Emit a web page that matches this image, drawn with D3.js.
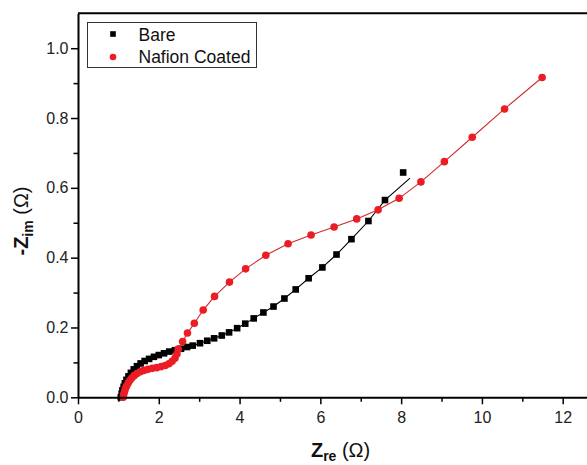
<!DOCTYPE html>
<html>
<head>
<meta charset="utf-8">
<script src="https://cdn.jsdelivr.net/npm/d3@7"></script>
<style>
  body { margin: 0; background: #fff; }
  svg { display: block; }
</style>
</head>
<body>
<svg id="chart" width="587" height="465"></svg>
<script>
// Nyquist data: real part Z_re (ohm) and negative imaginary part -Z_im (ohm)
const bareRe = [1.06, 1.08, 1.10, 1.13, 1.16, 1.20, 1.25, 1.31, 1.38, 1.46, 1.55, 1.65, 1.76, 1.88, 2.00,
  2.13, 2.26, 2.40, 2.55, 2.70, 2.84, 3.02, 3.20, 3.37, 3.56, 3.74, 3.94, 4.14, 4.35, 4.59, 4.84,
  5.11, 5.39, 5.71, 6.05, 6.40, 6.77, 7.19, 7.60, 8.05];
const bareIm = [0.000, 0.010, 0.020, 0.030, 0.040, 0.050, 0.060, 0.070, 0.080, 0.089, 0.097, 0.104, 0.110, 0.116, 0.121,
  0.126, 0.131, 0.135, 0.139, 0.144, 0.148, 0.155, 0.162, 0.169, 0.177, 0.186, 0.198, 0.211, 0.226, 0.243, 0.260,
  0.283, 0.309, 0.341, 0.372, 0.409, 0.453, 0.505, 0.565, 0.644];

// Fitted curve for the bare electrode
const bareFitRe = [1.06, 1.08, 1.10, 1.13, 1.16, 1.20, 1.25, 1.31, 1.38, 1.46, 1.55, 1.65, 1.76, 1.88, 2.00,
  2.13, 2.26, 2.40, 2.55, 2.70, 2.84, 3.02, 3.20, 3.37, 3.56, 3.74, 3.94, 4.14, 4.35, 4.59, 4.84,
  5.11, 5.39, 5.71, 6.05, 6.40, 6.77, 7.19, 7.60, 8.22];
const bareFitIm = [0.000, 0.010, 0.020, 0.030, 0.040, 0.050, 0.060, 0.070, 0.080, 0.089, 0.097, 0.104, 0.110, 0.116, 0.121,
  0.126, 0.131, 0.135, 0.139, 0.144, 0.148, 0.155, 0.162, 0.169, 0.177, 0.186, 0.198, 0.211, 0.226, 0.243, 0.260,
  0.283, 0.309, 0.341, 0.372, 0.409, 0.453, 0.505, 0.565, 0.628];

const nafionRe = [1.12, 1.13, 1.15, 1.17, 1.20, 1.24, 1.28, 1.33, 1.39, 1.46, 1.54, 1.63, 1.73, 1.84, 1.95,
  2.06, 2.16, 2.25, 2.33, 2.40, 2.45, 2.48, 2.59, 2.71, 2.88, 3.10, 3.38, 3.75, 4.15, 4.65, 5.20,
  5.77, 6.34, 6.90, 7.43, 7.95, 8.49, 9.07, 9.76, 10.56, 11.49];
const nafionIm = [0.000, 0.008, 0.016, 0.024, 0.032, 0.040, 0.048, 0.055, 0.062, 0.068, 0.073, 0.077, 0.080, 0.083, 0.085,
  0.088, 0.091, 0.096, 0.103, 0.112, 0.124, 0.138, 0.160, 0.184, 0.212, 0.250, 0.289, 0.330, 0.368, 0.407, 0.440,
  0.465, 0.488, 0.511, 0.537, 0.570, 0.617, 0.675, 0.745, 0.826, 0.916];

const xMajorTicks = [0, 2, 4, 6, 8, 10, 12];
const xMinorTicks = [1, 3, 5, 7, 9, 11, 13];
const yMajorTicks = [0.0, 0.2, 0.4, 0.6, 0.8, 1.0];
const yMinorTicks = [0.1, 0.3, 0.5, 0.7, 0.9];
const legendLabels = ["Bare", "Nafion Coated"];

const FONT = "'Liberation Sans', Arial, Helvetica, sans-serif";
const RED = "#ec1c24";
const RED_LINE = "#cf2a2f";

const svg = d3.select("#chart");
svg.append("rect").attr("width", 587).attr("height", 465).attr("fill", "#fff");

const x = d3.scaleLinear().domain([0, 13]).range([78, 603.1]);
const y = d3.scaleLinear().domain([0, 1.1]).range([397.3, 13.3]);

const zip = (a, b) => a.map((v, i) => [v, b[i]]);
const bare = zip(bareRe, bareIm);
const bareFit = zip(bareFitRe, bareFitIm);
const nafion = zip(nafionRe, nafionIm);

const line = d3.line().x(d => x(d[0])).y(d => y(d[1]));

// Series: bare electrode (black squares + fit line)
svg.append("path").datum(bareFit).attr("d", line)
  .attr("fill", "none").attr("stroke", "#000").attr("stroke-width", 1.1);
const sq = 6.6;
svg.append("g").selectAll("rect").data(bare).join("rect")
  .attr("x", d => x(d[0]) - sq / 2).attr("y", d => y(d[1]) - sq / 2)
  .attr("width", sq).attr("height", sq).attr("fill", "#000");

// Series: Nafion coated (red circles + line)
svg.append("path").datum(nafion).attr("d", line)
  .attr("fill", "none").attr("stroke", RED_LINE).attr("stroke-width", 1.1);
svg.append("g").selectAll("circle").data(nafion).join("circle")
  .attr("cx", d => x(d[0])).attr("cy", d => y(d[1])).attr("r", 3.8)
  .attr("fill", RED);

// Frame: top and right edges
svg.append("path")
  .attr("d", `M${x(0)},${y(1.1)}H${x(13)}V${y(0)}`)
  .attr("fill", "none").attr("stroke", "#000").attr("stroke-width", 2);

// Axes
function styleAxis(g) {
  g.select(".domain").attr("stroke-width", 2);
  g.selectAll(".tick line").attr("stroke-width", 1.5);
  g.selectAll("text").attr("font-family", FONT).attr("font-size", 16).attr("fill", "#222");
}

svg.append("g").attr("transform", `translate(0,${y(0)})`)
  .call(d3.axisBottom(x).tickValues(xMinorTicks).tickSize(4.5).tickSizeOuter(0).tickFormat(""))
  .call(g => g.select(".domain").remove())
  .call(g => g.selectAll(".tick line").attr("stroke-width", 1.5));
svg.append("g").attr("transform", `translate(0,${y(0)})`)
  .call(d3.axisBottom(x).tickValues(xMajorTicks).tickSize(7).tickPadding(7.5).tickSizeOuter(0).tickFormat(d3.format("d")))
  .call(styleAxis);

svg.append("g").attr("transform", `translate(${x(0)},0)`)
  .call(d3.axisLeft(y).tickValues(yMinorTicks).tickSize(4.5).tickSizeOuter(0).tickFormat(""))
  .call(g => g.select(".domain").remove())
  .call(g => g.selectAll(".tick line").attr("stroke-width", 1.5));
svg.append("g").attr("transform", `translate(${x(0)},0)`)
  .call(d3.axisLeft(y).tickValues(yMajorTicks).tickSize(7).tickPadding(2.5).tickSizeOuter(0).tickFormat(d3.format(".1f")))
  .call(styleAxis);

// Axis titles
const xTitle = svg.append("text")
  .attr("x", (x(0) + x(13)) / 2).attr("y", 457)
  .attr("text-anchor", "middle").attr("font-family", FONT).attr("font-size", 20).attr("fill", "#111");
xTitle.append("tspan").attr("font-weight", "bold").text("Z");
xTitle.append("tspan").attr("font-weight", "bold").attr("font-size", 14).attr("dy", 4).text("re");
xTitle.append("tspan").attr("dy", -4).text(" (\u03A9)");

const yTitle = svg.append("text")
  .attr("transform", "translate(28,221) rotate(-90)")
  .attr("text-anchor", "middle").attr("font-family", FONT).attr("font-size", 20).attr("fill", "#111");
yTitle.append("tspan").attr("font-weight", "bold").text("-Z");
yTitle.append("tspan").attr("font-weight", "bold").attr("font-size", 14).attr("dy", 5).text("im");
yTitle.append("tspan").attr("dy", -5).text(" (\u03A9)");

// Legend
const legend = svg.append("g");
legend.append("rect").attr("x", 87.5).attr("y", 22.5).attr("width", 169).attr("height", 45)
  .attr("fill", "#fff").attr("stroke", "#333").attr("stroke-width", 1);
legend.append("rect").attr("x", 113 - 2.8).attr("y", 34 - 2.8).attr("width", 5.6).attr("height", 5.6).attr("fill", "#000");
legend.append("circle").attr("cx", 113).attr("cy", 57).attr("r", 3.3).attr("fill", RED);
legend.selectAll("text.lbl").data(legendLabels).join("text").attr("class", "lbl")
  .attr("x", 138.5).attr("y", (d, i) => 40.5 + i * 22.5)
  .attr("font-family", FONT).attr("font-size", 17.5).attr("fill", "#111")
  .text(d => d);
</script>
</body>
</html>
